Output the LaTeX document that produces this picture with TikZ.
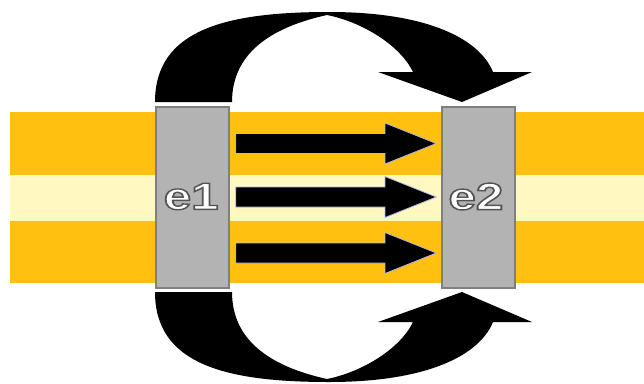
\documentclass[tikz,border=0pt]{standalone}
\usepackage{fontspec}
\setmainfont{Liberation Sans}
\definecolor{bandorange}{HTML}{FFC010}
\definecolor{bandlight}{HTML}{FFF8C0}
\definecolor{boxgray}{HTML}{B3B3B3}
\definecolor{boxedge}{HTML}{7F7F7F}
\definecolor{arrowedge}{HTML}{B8B8F0}
\newcommand\mycurvedarrow{%
  (155,102) .. controls (155,30) and (225,12) .. (329,12)
  .. controls (430,12) and (480,40) .. (493,72)
  -- (532,72) -- (462,102) -- (378,72) -- (413,72)
  .. controls (400,45) and (362,22) .. (327,15)
  .. controls (268,28) and (232,55) .. (232,102) -- cycle}
\newcommand\outlined[1]{\special{pdf:literal direct 2 Tr 1.4 w 0.33 G}#1\special{pdf:literal direct 0 Tr}}
\tikzset{
  elembox/.style={draw=boxedge, line width=1.5pt, fill=boxgray, minimum width=73pt, minimum height=181pt, inner sep=0pt},
  flowarrow/.style={fill=black, draw=arrowedge, line width=0.8pt, line join=miter},
  bigarrow/.style={fill=black, draw=none},
  lbl/.style={font=\bfseries\fontsize{38}{38}\selectfont, xscale=1.3, inner sep=0pt, text=white}
}
\begin{document}
\begin{tikzpicture}[x=1pt,y=-1pt]
\useasboundingbox (0,0) rectangle (644,383);
% bands
\fill[bandorange] (10,112) rectangle (644,283);
\fill[bandlight] (10,175) rectangle (644,221);
% boxes
\node[elembox] (e1) at (192.5,197.5) {};
\node[elembox] (e2) at (478.5,197.5) {};
% horizontal arrows
\foreach \yc in {143.5,197,253}{
  \draw[flowarrow] ([xshift=6pt]e1.east |- 0,\yc-10) -- (385,\yc-10) -- (385,\yc-20.5)
    -- ([xshift=-5pt]e2.west |- 0,\yc) -- (385,\yc+20.5) -- (385,\yc+10)
    -- ([xshift=6pt]e1.east |- 0,\yc+10) -- cycle;
}
% curved arrows
\fill[bigarrow] \mycurvedarrow;
\begin{scope}[shift={(0,394)}, yscale=-1]
\fill[bigarrow] \mycurvedarrow;
\end{scope}
% labels
\node[lbl, shift={(-1,-1)}] (e1-label) at (e1) {\outlined{e1}};
\node[lbl, shift={(-2,-1)}] (e2-label) at (e2) {\outlined{e2}};
\end{tikzpicture}
\end{document}
